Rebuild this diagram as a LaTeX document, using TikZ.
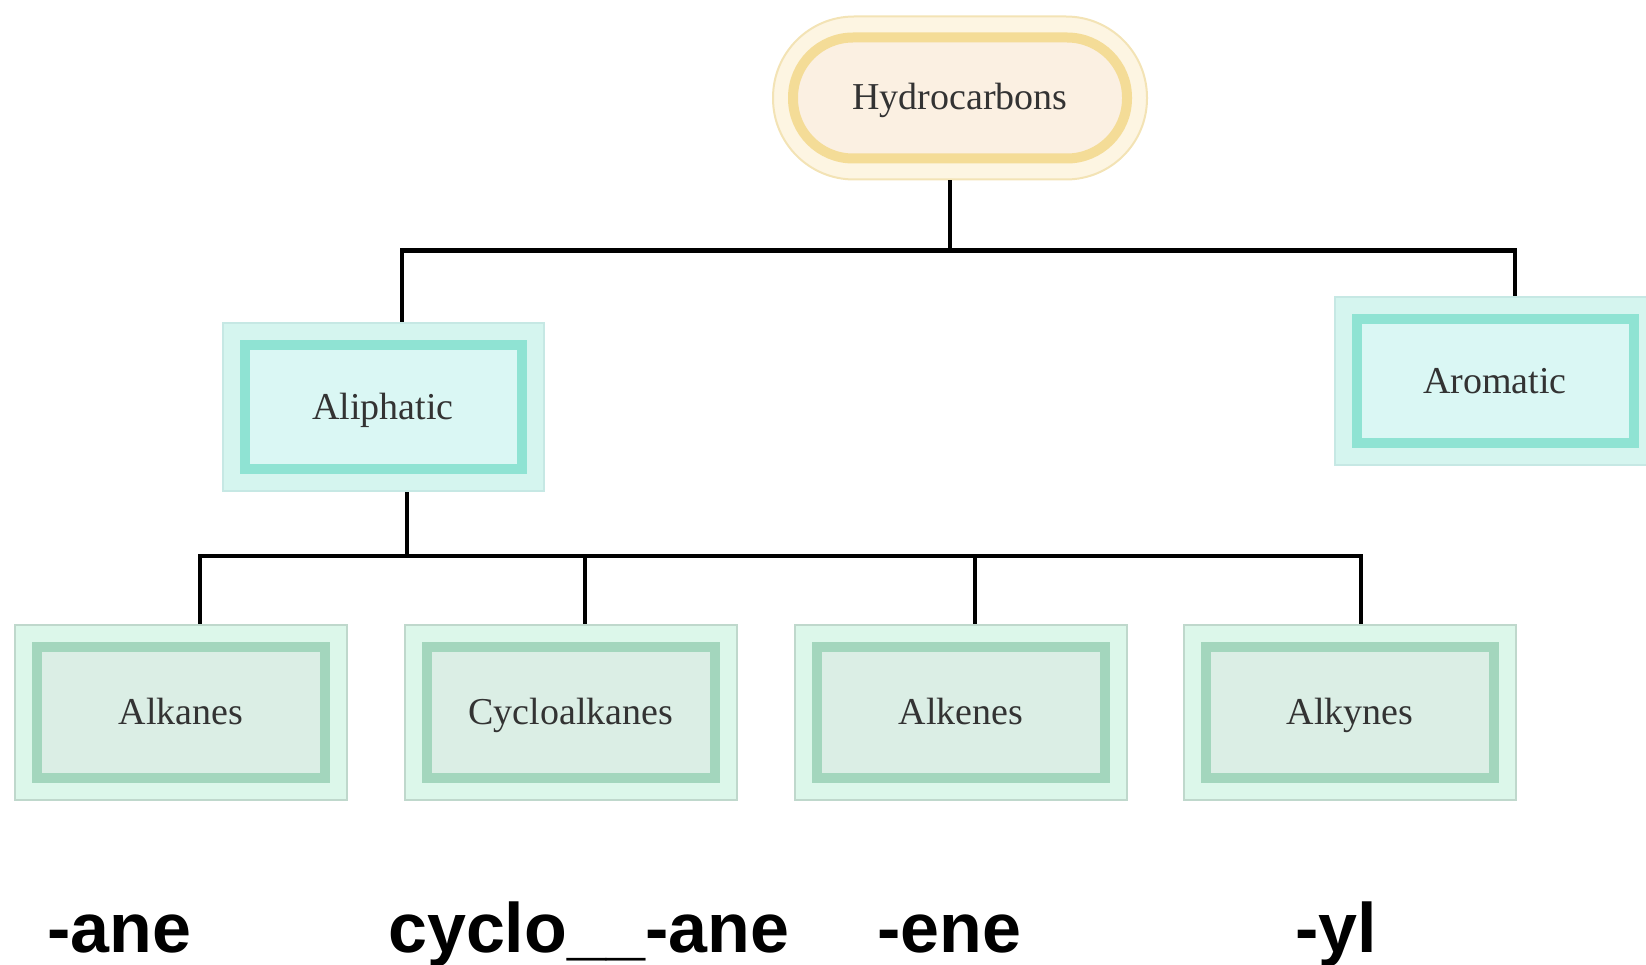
\documentclass[tikz,border=0pt]{standalone}
\usepackage{fontspec}
\setmainfont{Liberation Serif}
\newfontfamily\suffixfont{Liberation Sans}
\usetikzlibrary{calc}

\definecolor{hcfill}{HTML}{FDF5E2}
\definecolor{hcedge}{HTML}{F3E3B5}
\definecolor{hcring}{HTML}{F4DC97}
\definecolor{hcinner}{HTML}{FBF0E2}
\definecolor{clfill}{HTML}{D5F5EF}
\definecolor{cledge}{HTML}{C6E8E4}
\definecolor{clring}{HTML}{8FE3D3}
\definecolor{clinner}{HTML}{DAF7F4}
\definecolor{fmfill}{HTML}{DCF7EA}
\definecolor{fmedge}{HTML}{BFD8CC}
\definecolor{fmring}{HTML}{A3D6BD}
\definecolor{fminner}{HTML}{DBEEE5}

\tikzset{
  box text/.style={inner sep=0pt, text=black!80, text height=28pt, text depth=4pt,
    font=\fontsize{38}{44}\selectfont},
  inner ring/.style n args={3}{path picture={
    \draw [line width=10pt, draw=#1, fill=#2]
      ([shift={(22pt,-22pt)}]path picture bounding box.north west) rectangle
      ([shift={(-22pt,22pt)}]path picture bounding box.south east);}},
  root box/.style={box text, draw=hcedge, line width=2pt, fill=hcfill,
    rounded corners=81pt, minimum width=374pt, minimum height=163pt,
    path picture={
      \draw [line width=10pt, draw=hcring, fill=hcinner, rounded corners=60pt]
        ([shift={(20pt,-21pt)}]path picture bounding box.north west) rectangle
        ([shift={(-20pt,21pt)}]path picture bounding box.south east);}},
  class box/.style={box text, draw=cledge, line width=2pt, fill=clfill,
    minimum width=321pt, minimum height=168pt, inner ring={clring}{clinner}{22pt}},
  family box/.style={box text, draw=fmedge, line width=2pt, fill=fmfill,
    minimum width=332pt, minimum height=175pt, inner ring={fmring}{fminner}{22pt}},
  wire/.style={line width=4.5pt, black},
  suffix/.style={inner sep=0pt, font=\suffixfont\bfseries\fontsize{70}{80}\selectfont}
}

\begin{document}
\begin{tikzpicture}[x=1pt, y=-1pt]
\useasboundingbox (0,0) rectangle (1646,965);

\node [root box] (hc) at (960,98) {Hydrocarbons};
\node [class box] (ali) at (383,407) {Aliphatic};
\node [class box] (aro) at (1495,381) {Aromatic};

\foreach \n/\t/\x in {alk/Alkanes/181, cyc/Cycloalkanes/571, alke/Alkenes/961, alky/Alkynes/1350}
  \node [family box] (\n) at (\x,712) {\t};

% first split
\draw [wire] ([xshift=-10pt]hc.south) -- ++(0,70) coordinate (bus1);
\draw [wire] (bus1) -| ([xshift=19pt]ali.north);
\draw [wire] (bus1) -| ([xshift=20pt]aro.north);

% second split
\draw [wire] ([xshift=24pt]ali.south) -- ++(0,64) coordinate (bus2);
\foreach \n/\s in {alk/19, cyc/14, alke/14, alky/11}
  \draw [wire] (bus2) -| ([xshift=\s pt]\n.north);

\foreach \t/\x [count=\i] in {-ane/47, cyclo\_\_-ane/388, -ene/877, -yl/1295}
  \node [suffix, anchor=base west] (suffix-\i) at (\x,952) {\t};
\end{tikzpicture}
\end{document}
